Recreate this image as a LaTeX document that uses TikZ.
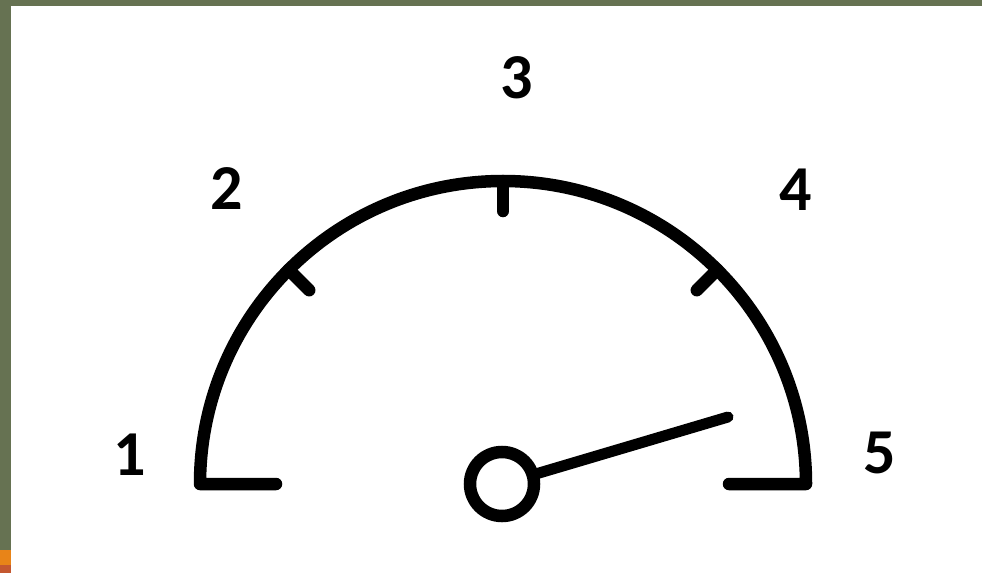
\documentclass[tikz,border=0pt]{standalone}
\usepackage{fontspec}
\setmainfont{Carlito}
\definecolor{framegreen}{RGB}{102,114,82}
\definecolor{frameorange}{RGB}{232,132,24}
\definecolor{framered}{RGB}{196,88,48}
\begin{document}
\begin{tikzpicture}[x=1pt,y=-1pt,
  gauge/.style={line width=12.5pt,line cap=round,line join=round,black},
  numlabel/.style={inner sep=0pt,font=\fontsize{64}{64}\selectfont\bfseries}]
\useasboundingbox (0,0) rectangle (982,573);
\fill[white] (0,0) rectangle (982,573);
\fill[framegreen] (0,0) rectangle (982,6);
\fill[framegreen] (0,0) rectangle (11,550);
\fill[frameorange] (0,550) rectangle (11,565);
\fill[framered] (0,565) rectangle (11,573);
% arc with feet
\coordinate (lfoot) at (276,484);
\coordinate (rfoot) at (729,484);
\draw[gauge] (lfoot) -- (200,484) arc[start angle=180,end angle=360,radius=303] -- (rfoot);
% ticks
\coordinate (t2o) at (288.7,269.7);
\coordinate (t2i) at (309.2,290.2);
\coordinate (t3o) at (503,181);
\coordinate (t3i) at (503,211);
\coordinate (t4o) at (717.3,269.7);
\coordinate (t4i) at (696.8,290.2);
\draw[gauge] (t2o) -- (t2i);
\draw[gauge] (t3o) -- (t3i);
\draw[gauge] (t4o) -- (t4i);
% needle
\node[draw,circle,line width=12.5pt,minimum size=64pt,inner sep=0pt,outer sep=0pt,fill=white] (hub) at (502,484) {};
\coordinate (tip) at (728,417);
\draw[line width=11pt,line cap=round] (hub) -- (tip);
% labels
\node[numlabel] (l1) at (130,455) {1};
\node[numlabel] (l2) at (227,189) {2};
\node[numlabel] (l3) at (517,78) {3};
\node[numlabel] (l4) at (796,190) {4};
\node[numlabel] (l5) at (880,453) {5};
\end{tikzpicture}
\end{document}
